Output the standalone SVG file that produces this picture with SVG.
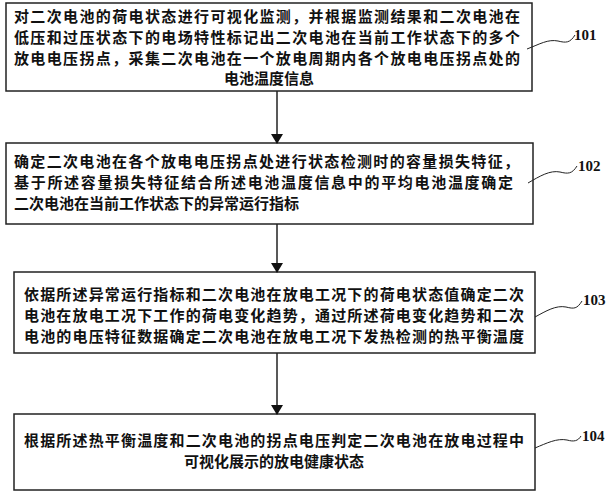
<svg xmlns="http://www.w3.org/2000/svg" width="611" height="495" viewBox="0 0 611 495">
<style>
.b{fill:#fff;stroke:#222;stroke-width:1.5}
.t{font-family:"Noto Sans CJK SC",sans-serif;font-size:15px;font-weight:bold;fill:#111}
.l{font-family:"Liberation Serif",serif;font-size:15px;font-weight:bold;fill:#111}
.c{stroke:#222;stroke-width:1.5;fill:none}
.w{stroke:#222;stroke-width:1;fill:none}
</style>
<defs><marker id="a" markerWidth="10" markerHeight="12" refX="9" refY="6" orient="auto" markerUnits="userSpaceOnUse"><path d="M0,0L10,6L0,12z" fill="#111"/></marker></defs>
<rect width="611" height="495" fill="#fff"/>
<g id="n101"><rect class="b" x="6" y="3" width="526" height="88"/>
<text class="t" x="14" y="22" textLength="506">对二次电池的荷电状态进行可视化监测，并根据监测结果和二次电池在</text>
<text class="t" x="14" y="43" textLength="506">低压和过压状态下的电场特性标记出二次电池在当前工作状态下的多个</text>
<text class="t" x="14" y="64" textLength="506">放电电压拐点，采集二次电池在一个放电周期内各个放电电压拐点处的</text>
<text class="t" x="269" y="84" text-anchor="middle">电池温度信息</text></g>
<g id="n102"><rect class="b" x="6" y="143" width="527" height="81"/>
<text class="t" x="14" y="167" textLength="505">确定二次电池在各个放电电压拐点处进行状态检测时的容量损失特征，</text>
<text class="t" x="14" y="188" textLength="499">基于所述容量损失特征结合所述电池温度信息中的平均电池温度确定</text>
<text class="t" x="14" y="209">二次电池在当前工作状态下的异常运行指标</text></g>
<g id="n103"><rect class="b" x="14" y="272" width="521" height="81"/>
<text class="t" x="24" y="300" textLength="500">依据所述异常运行指标和二次电池在放电工况下的荷电状态值确定二次</text>
<text class="t" x="24" y="321" textLength="500">电池在放电工况下工作的荷电变化趋势，通过所述荷电变化趋势和二次</text>
<text class="t" x="24" y="342" textLength="500">电池的电压特征数据确定二次电池在放电工况下发热检测的热平衡温度</text></g>
<g id="n104"><rect class="b" x="14" y="414" width="521" height="76"/>
<text class="t" x="24" y="446" textLength="500">根据所述热平衡温度和二次电池的拐点电压判定二次电池在放电过程中</text>
<text class="t" x="274" y="467" text-anchor="middle">可视化展示的放电健康状态</text></g>
<g id="connectors">
<line class="c" x1="277" y1="91" x2="277" y2="143" marker-end="url(#a)"/>
<line class="c" x1="277" y1="224" x2="277" y2="272" marker-end="url(#a)"/>
<line class="c" x1="277" y1="353" x2="277" y2="414" marker-end="url(#a)"/>
<path class="w" d="M527,49 C540,44 548,39 558,41 C566,43 570,43 575,35"/>
<path class="w" d="M528,183 C540,176 550,170 560,172 C568,174 572,174 577,166"/>
<path class="w" d="M535,317 C546,311 556,305 566,307 C574,309 577,309 582,301"/>
<path class="w" d="M535,448 C547,443 557,438 567,440 C574,442 578,441 581,436"/>
</g>
<g id="labels">
<text class="l" x="574" y="40">101</text>
<text class="l" x="578" y="171">102</text>
<text class="l" x="583" y="305">103</text>
<text class="l" x="582" y="441">104</text>
</g>
</svg>
